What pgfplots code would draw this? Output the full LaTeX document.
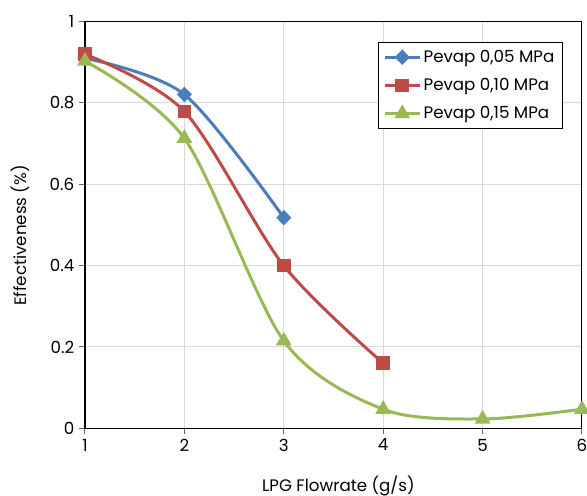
\documentclass[border=0pt]{standalone}
\usepackage{fontspec}
\setmainfont{Poppins}
\usepackage{pgfplots}
\pgfplotsset{compat=1.18}
\definecolor{cblue}{HTML}{4A7EBB}
\definecolor{cred}{HTML}{BE4B48}
\definecolor{cgreen}{HTML}{98B954}
\begin{document}
\begin{tikzpicture}
\useasboundingbox (-63.75pt,-50.75pt) rectangle (376.5pt,321.25pt);
\begin{axis}[
  at={(0pt,0pt)}, anchor=south west,
  scale only axis, width=372.75pt, height=305pt,
  xmin=1, xmax=6, ymin=0, ymax=1,
  xtick={1,2,3,4,5,6}, ytick={0,0.2,0.4,0.6,0.8,1},
  /pgf/number format/assume math mode=true,
  font=\fontsize{12.5}{15}\selectfont,
  tick label style={font=\fontsize{12.5}{15}\selectfont},
  grid=major, major grid style={line width=0.75pt, color=black!15},
  axis line style={line width=0.75pt, black},
  tick pos=left, tick align=outside, major tick length=4.5pt,
  tick style={line width=0.75pt, black!60},
  xlabel={LPG Flowrate (g/s)}, ylabel={Effectiveness (\%)},
  xlabel style={at={(axis description cs:0.51,-0.1426)}, anchor=center},
  ylabel style={at={(axis description cs:-0.1308,0.474)}, anchor=center},
  legend style={at={(0.589,0.951)}, anchor=north west, draw=black, line width=0.75pt,
    font=\fontsize{12.5}{15}\selectfont, row sep=6.5pt, inner xsep=4pt, inner ysep=4pt,
    cells={anchor=west}},
  legend image code/.code={\draw[#1,mark repeat=2,mark phase=2] plot coordinates {(0pt,0pt)(12.9pt,0pt)(25.8pt,0pt)};},
  every axis plot/.append style={line width=2.25pt, smooth, tension=0.5},
]
\addplot[cblue, mark=diamond*, mark size=4.2pt, mark options={xscale=1.3, solid}] coordinates {(1,0.91) (2,0.821) (3,0.518)};
\addlegendentry{Pevap 0,05 MPa}
\addplot[cred, mark=square*, mark size=4pt] coordinates {(1,0.92) (2,0.779) (3,0.40) (4,0.16)};
\addlegendentry{Pevap 0,10 MPa}
\addplot[cgreen, mark=triangle*, mark size=4.6pt] coordinates {(1,0.903) (2,0.713) (3,0.215) (4,0.047) (5,0.023) (6,0.047)};
\addlegendentry{Pevap 0,15 MPa}
\draw[black, line width=1.3pt] (rel axis cs:0,0) -- (rel axis cs:0,1);
\end{axis}
\end{tikzpicture}
\end{document}
